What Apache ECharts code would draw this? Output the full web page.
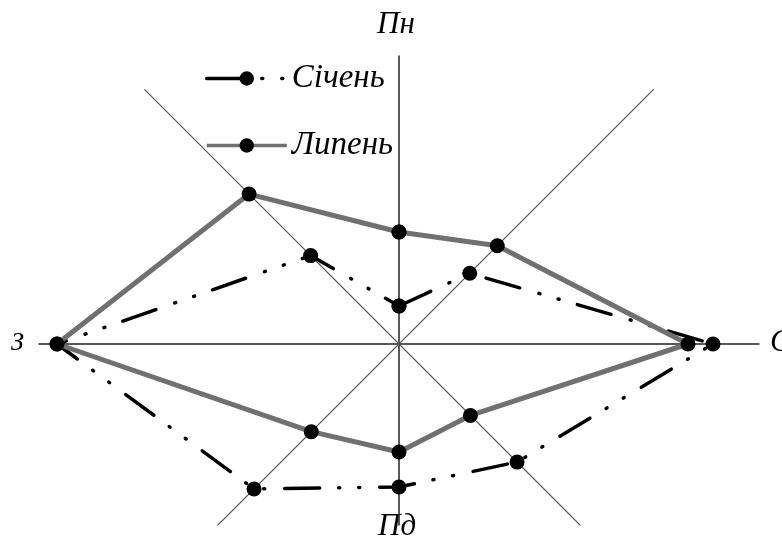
<!DOCTYPE html>
<html><head><meta charset="utf-8">
<script src="https://cdn.jsdelivr.net/npm/echarts@6/dist/echarts.min.js"></script>
<style>html,body{margin:0;padding:0;background:#fff}#c{width:782px;height:542px}</style>
</head><body><div id="c"></div>
<script>
// Directions (compass order) and their angles in degrees (east = 0, counter-clockwise)
const directions = ['Пн', 'ПнС', 'С', 'ПдС', 'Пд', 'ПдЗ', 'З', 'ПнЗ'];
const angles = [90, 45, 0, -45, -90, -135, 180, 135];
// Wind rose values (relative units)
const january = [38, 100, 314, 167, 143, 205, 342, 125];
const july    = [112, 139, 289, 101, 108, 124, 342, 212];
const seriesNames = ['Січень', 'Липень'];
const axisLabels = ['Пн', 'С', 'Пд', 'З'];

const rad = a => a * Math.PI / 180;
function toXY(vals) {
  const pts = vals.map((r, i) => [r * Math.cos(rad(angles[i])), r * Math.sin(rad(angles[i]))]);
  pts.push(pts[0]);
  return pts;
}
const axisLen = 360;
const diagSeries = [45, 135].map(a => ({
  type: 'line', silent: true, symbol: 'none', z: 1,
  data: [[axisLen * Math.cos(rad(a)), axisLen * Math.sin(rad(a))],
         [-axisLen * Math.cos(rad(a)), -axisLen * Math.sin(rad(a))]],
  lineStyle: { color: '#555', width: 1.2 }
}));

const font = 'Liberation Serif';
const chart = echarts.init(document.getElementById('c'));
chart.setOption({
  animation: false,
  grid: { left: 39, right: 23, top: 56, bottom: 17 },
  xAxis: { type: 'value', min: -360, max: 360, axisLine: { onZero: true, lineStyle: { color: '#222', width: 1.5 } },
           axisTick: { show: false }, axisLabel: { show: false }, splitLine: { show: false } },
  yAxis: { type: 'value', min: -181, max: 288, axisLine: { onZero: true, lineStyle: { color: '#222', width: 1.5 } },
           axisTick: { show: false }, axisLabel: { show: false }, splitLine: { show: false } },
  legend: {
    data: seriesNames, orient: 'vertical', left: 200, top: 57, itemGap: 34,
    itemWidth: 80, itemHeight: 18,
    lineStyle: { width: 3.5 },
    textStyle: { fontFamily: font, fontStyle: 'italic', fontSize: 33, color: '#000' }
  },
  graphic: [
    { type: 'text', left: 377, top: 9, style: { text: axisLabels[0], font: 'italic 31px "Liberation Serif"', fill: '#000' } },
    { type: 'text', left: 770, top: 327, style: { text: axisLabels[1], font: 'italic 31px "Liberation Serif"', fill: '#000' } },
    { type: 'text', left: 378, top: 511, style: { text: axisLabels[2], font: 'italic 31px "Liberation Serif"', fill: '#000' } },
    { type: 'text', left: 11, top: 330, style: { text: axisLabels[3], font: 'italic 26px "Liberation Serif"', fill: '#000' } }
  ],
  series: [
    ...diagSeries,
    {
      name: seriesNames[0], type: 'line', z: 3, data: toXY(january),
      symbol: 'circle', symbolSize: 15,
      itemStyle: { color: '#000' },
      lineStyle: { color: '#000', width: 3.5, type: [35, 20, 1, 19, 1, 19], cap: 'round' }
    },
    {
      name: seriesNames[1], type: 'line', z: 4, data: toXY(july),
      symbol: 'circle', symbolSize: 15,
      itemStyle: { color: '#000' },
      lineStyle: { color: '#707070', width: 5 }
    }
  ]
});
</script></body></html>
